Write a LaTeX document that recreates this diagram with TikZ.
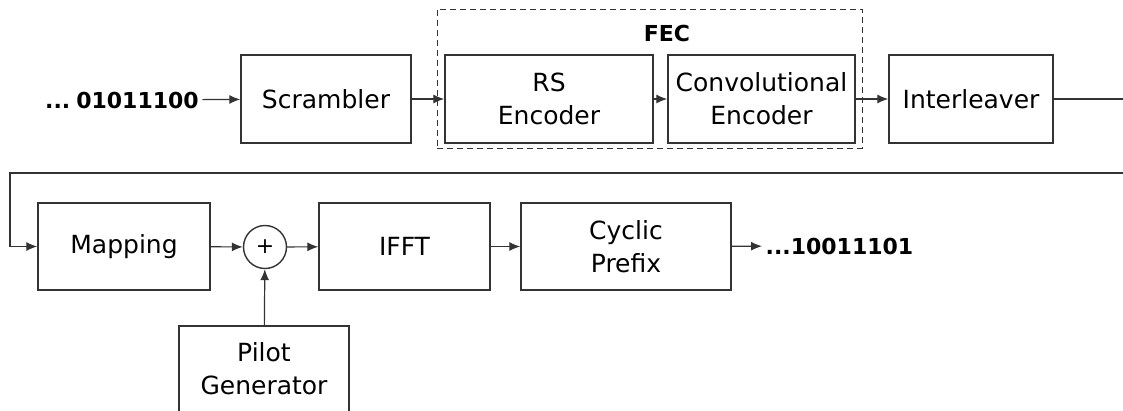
\documentclass[tikz,border=0pt]{standalone}
\usepackage{fontspec}
\setmainfont{DejaVu Sans}
\usetikzlibrary{arrows.meta}
\begin{document}
\begin{tikzpicture}[x=1pt,y=-1pt,
  line width=1.4pt, draw=black!80,
  blk/.style={draw, rectangle, minimum height=88pt, inner sep=0pt, align=center,
              font=\fontsize{25}{33}\selectfont},
  bits/.style={font=\bfseries\fontsize{22}{26}\selectfont, inner sep=3pt},
  flow/.style={-{Latex[length=11pt,width=9pt]}, line width=1.2pt}]
\useasboundingbox (0,0) rectangle (1123,410);

% upper chain
\node[bits] (in) at (122,100) {...\hspace{6pt}01011100};
\node[blk, minimum width=170pt] (scr) at (326,99) {Scrambler};
\node[blk, minimum width=208pt] (rs) at (549,99) {RS\\Encoder};
\node[blk, minimum width=187pt] (conv) at (761.5,99) {Convolutional\\Encoder};
\node[blk, minimum width=164pt] (intl) at (971,99) {Interleaver};

% FEC group
\node[draw, dash pattern=on 6pt off 4pt, line width=1pt, rectangle, minimum width=425pt,
      minimum height=139pt, inner sep=0pt] (fec) at (649.5,78.5) {};
\node[font=\bfseries\fontsize{22}{26}\selectfont] (feclbl) at (667,33) {FEC};

% lower chain
\node[blk, minimum width=172pt, minimum height=87pt] (map) at (124,246.5) {Mapping};
\node[draw, circle, minimum size=43pt, inner sep=0pt, font=\fontsize{22}{26}\selectfont] (sum) at (265,247) {+};
\node[blk, minimum width=171pt, minimum height=87pt] (ifft) at (404.5,246.5) {IFFT};
\node[blk, minimum width=210pt, minimum height=87pt] (cp) at (626,246.5) {Cyclic\\Prefix};
\node[bits, anchor=west] (out) at (762,246) {...10011101};
\node[blk, minimum width=170pt, minimum height=86pt] (pilot) at (264,369) {Pilot\\Generator};

% wrap-around line between the two rows
\coordinate (r1) at (1126,99);
\coordinate (r2) at (1126,173);
\coordinate (l2) at (10,173);

\draw[flow] (in) -- (scr);
\draw[flow] (scr) -- (rs);
\draw[flow] (rs) -- (conv);
\draw[flow] (conv) -- (intl);
\draw (intl.east) -- (r1);
\draw[flow] (r2) -- (l2) |- (map.west);
\draw[flow] (map) -- (sum);
\draw[flow] (sum) -- (ifft);
\draw[flow] (ifft) -- (cp);
\draw[flow] (cp) -- (out);
\draw[flow] (pilot) -- (sum);
\end{tikzpicture}
\end{document}
